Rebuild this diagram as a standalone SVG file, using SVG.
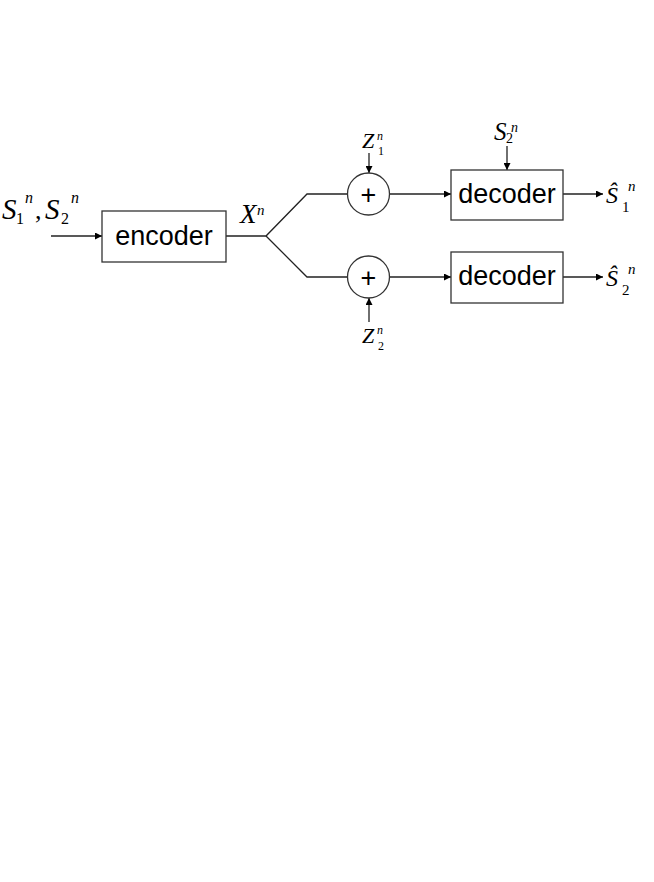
<svg xmlns="http://www.w3.org/2000/svg" width="654" height="882" viewBox="0 0 654 882">
<defs>
<style>
.box{fill:#fff;stroke:#333;stroke-width:1.3}
.ln{fill:none;stroke:#222;stroke-width:1.3}
.lbl{font-family:"Liberation Sans",Arial,sans-serif;font-size:27px;fill:#000;text-anchor:middle}
.plus{font-family:"Liberation Sans",Arial,sans-serif;font-size:27px;fill:#000;text-anchor:middle}
.m{font-family:"Liberation Serif","Times New Roman",serif;font-style:italic;fill:#000}
.s{font-family:"Liberation Serif","Times New Roman",serif;font-style:normal;fill:#000}
</style>
<marker id="ah" viewBox="0 0 10 10" refX="10" refY="5" markerWidth="8" markerHeight="7" markerUnits="userSpaceOnUse" orient="auto">
<path d="M0,0 L10,5 L0,10 z" fill="#000"/>
</marker>
</defs>
<rect width="654" height="882" fill="#fff"/>

<g id="connectors">
<line class="ln" x1="51" y1="236" x2="102" y2="236" marker-end="url(#ah)"/>
<polyline class="ln" points="226,236 266,236 307,194 347,194"/>
<polyline class="ln" points="266,236 307,277 347,277"/>
<line class="ln" x1="389" y1="194" x2="451" y2="194" marker-end="url(#ah)"/>
<line class="ln" x1="389" y1="277" x2="451" y2="277" marker-end="url(#ah)"/>
<line class="ln" x1="563" y1="194" x2="603" y2="194" marker-end="url(#ah)"/>
<line class="ln" x1="563" y1="277" x2="603" y2="277" marker-end="url(#ah)"/>
<line class="ln" x1="369" y1="153" x2="369" y2="173" marker-end="url(#ah)"/>
<line class="ln" x1="507" y1="146" x2="507" y2="170" marker-end="url(#ah)"/>
<line class="ln" x1="369" y1="322" x2="369" y2="298" marker-end="url(#ah)"/>
</g>

<g id="input-label">
<text class="m" x="2" y="219" font-size="29">S</text>
<text class="s" x="16" y="224" font-size="16">1</text>
<text class="m" x="25" y="203" font-size="16">n</text>
<text class="s" x="35" y="219" font-size="26">,</text>
<text class="m" x="45" y="219" font-size="29">S</text>
<text class="s" x="61" y="224" font-size="16">2</text>
<text class="m" x="71" y="203" font-size="16">n</text>
</g>

<g id="encoder">
<rect class="box" x="102" y="211" width="124" height="51"/>
<text class="lbl" x="164" y="245">encoder</text>
</g>

<g id="x-label">
<text class="m" x="240" y="223" font-size="27">X</text>
<text class="m" x="257" y="215" font-size="15">n</text>
</g>

<g id="adder1">
<circle class="box" cx="368.5" cy="194" r="21"/>
<text class="plus" x="368.5" y="203.5">+</text>
</g>
<g id="adder2">
<circle class="box" cx="368.5" cy="277" r="21"/>
<text class="plus" x="368.5" y="286.5">+</text>
</g>

<g id="z1-label">
<text class="m" x="362" y="148" font-size="22">Z</text>
<text class="m" x="377" y="140" font-size="12">n</text>
<text class="s" x="378" y="155" font-size="12">1</text>
</g>
<g id="z2-label">
<text class="m" x="362" y="343" font-size="22">Z</text>
<text class="m" x="377" y="334" font-size="12">n</text>
<text class="s" x="378" y="350" font-size="12">2</text>
</g>

<g id="s2-side-label">
<text class="m" x="494" y="140" font-size="25">S</text>
<text class="s" x="506" y="143" font-size="14">2</text>
<text class="m" x="511" y="132" font-size="14">n</text>
</g>

<g id="decoder1">
<rect class="box" x="451" y="170" width="112" height="50"/>
<text class="lbl" x="507" y="203">decoder</text>
</g>
<g id="decoder2">
<rect class="box" x="451" y="252" width="112" height="51"/>
<text class="lbl" x="507" y="285">decoder</text>
</g>

<g id="out1-label">
<text class="m" x="606" y="203" font-size="24">Ŝ</text>
<text class="s" x="622" y="212" font-size="15">1</text>
<text class="m" x="628" y="191" font-size="15">n</text>
</g>
<g id="out2-label">
<text class="m" x="606" y="286" font-size="24">Ŝ</text>
<text class="s" x="622" y="295" font-size="15">2</text>
<text class="m" x="628" y="274" font-size="15">n</text>
</g>
</svg>
